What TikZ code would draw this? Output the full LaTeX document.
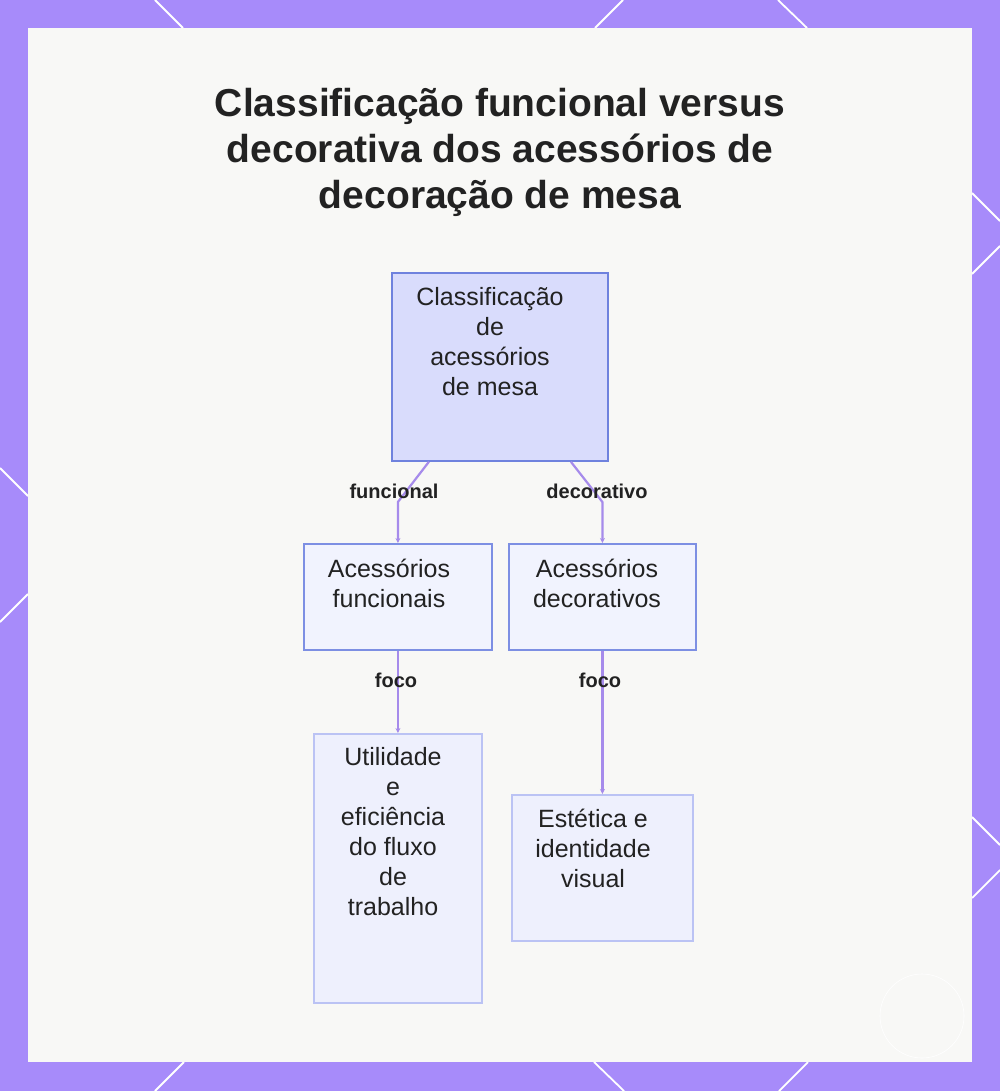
\documentclass[tikz,border=0pt]{standalone}
\usepackage{fontspec}
\setmainfont{Liberation Sans}
\usetikzlibrary{arrows.meta,calc}
\definecolor{frameviolet}{HTML}{A78BFA}
\definecolor{panelbg}{HTML}{F8F8F6}
\definecolor{inkdark}{HTML}{222222}
\definecolor{rootfill}{HTML}{D9DCFC}
\definecolor{rootline}{HTML}{6F82DE}
\definecolor{midfill}{HTML}{F1F3FE}
\definecolor{midline}{HTML}{7D8FE3}
\definecolor{leaffill}{HTML}{EEF0FD}
\definecolor{leafline}{HTML}{BBC3F4}
\definecolor{connviolet}{HTML}{A68BEB}
\tikzset{
  rootbox/.style={draw=rootline, fill=rootfill, line width=1.8pt, rectangle, anchor=north west, inner sep=0pt},
  midbox/.style={draw=midline, fill=midfill, line width=1.8pt, rectangle, anchor=north west, inner sep=0pt},
  leafbox/.style={draw=leafline, fill=leaffill, line width=1.8pt, rectangle, anchor=north west, inner sep=0pt},
  boxtext/.style={text=inkdark, align=center, font=\fontsize{25}{30}\selectfont, inner sep=0pt},
  edgelabel/.style={text=inkdark, font=\fontsize{20}{24}\selectfont\bfseries, inner sep=0pt},
  conn/.style={draw=connviolet, line width=2.2pt, -{Stealth[length=5pt,width=5pt]}},
  frameline/.style={draw=white, line width=1.8pt},
  titletext/.style={text=inkdark, align=center, font=\fontsize{39}{46}\selectfont\bfseries, inner sep=0pt}
}
\begin{document}
\begin{tikzpicture}[x=1pt,y=-1pt]
\useasboundingbox (0,0) rectangle (1000,1091);
% frame
\fill[frameviolet] (0,0) rectangle (1000,1091);
\draw[frameline] (155,0) -- (183,28);
\draw[frameline] (623,0) -- (595,28);
\draw[frameline] (778,0) -- (807,28);
\draw[frameline] (155,1091) -- (184,1062);
\draw[frameline] (624,1091) -- (594,1062);
\draw[frameline] (779,1091) -- (808,1062);
\draw[frameline] (972,193) -- (1000,221);
\draw[frameline] (1000,246) -- (972,274);
\draw[frameline] (972,817) -- (1000,845);
\draw[frameline] (1000,870) -- (972,898);
\draw[frameline] (0,468) -- (28,496);
\draw[frameline] (28,594) -- (0,622);
% panel
\fill[panelbg] (28,28) rectangle (972,1062);
% faint watermark
\draw[white, line width=0.6pt] (922,1016) circle (42);
% title
\node[titletext] (title) at (500,152) {Classificação funcional versus\\decorativa dos acessórios de\\decoração de mesa};
% boxes
\node[rootbox, minimum width=216pt, minimum height=188pt] (root) at (391,272) {};
\node[midbox, minimum width=188pt, minimum height=106pt] (lm) at (303,543) {};
\node[midbox, minimum width=187pt, minimum height=106pt] (rm) at (508,543) {};
\node[leafbox, minimum width=168pt, minimum height=269pt] (lb) at (313,733) {};
\node[leafbox, minimum width=181pt, minimum height=146pt] (rb) at (511,794) {};
% box texts
\node[boxtext] (rootT) at (490,342) {Classificação\\de\\acessórios\\de mesa};
\node[boxtext] (lmT) at (389,583) {Acessórios\\funcionais};
\node[boxtext] (rmT) at (597,583) {Acessórios\\decorativos};
\node[boxtext] (lbT) at (393,832) {Utilidade\\e\\eficiência\\do fluxo\\de\\trabalho};
\node[boxtext] (rbT) at (593,848) {Estética e\\identidade\\visual};
% connectors
\draw[conn] ([xshift=-71pt]root.south) -- (lm.north |- 0,502) -- (lm.north);
\draw[conn] ([xshift=71pt]root.south) -- (rm.north |- 0,502) -- (rm.north);
\draw[conn] (lm.south) -- (lb.north);
\draw[conn] (rm.south) -- (rb.north);
% edge labels
\node[edgelabel] (l1) at (394,491) {funcional};
\node[edgelabel] (l2) at (597,491) {decorativo};
\node[edgelabel] (l3) at (396,680) {foco};
\node[edgelabel] (l4) at (600,680) {foco};
\end{tikzpicture}
\end{document}
